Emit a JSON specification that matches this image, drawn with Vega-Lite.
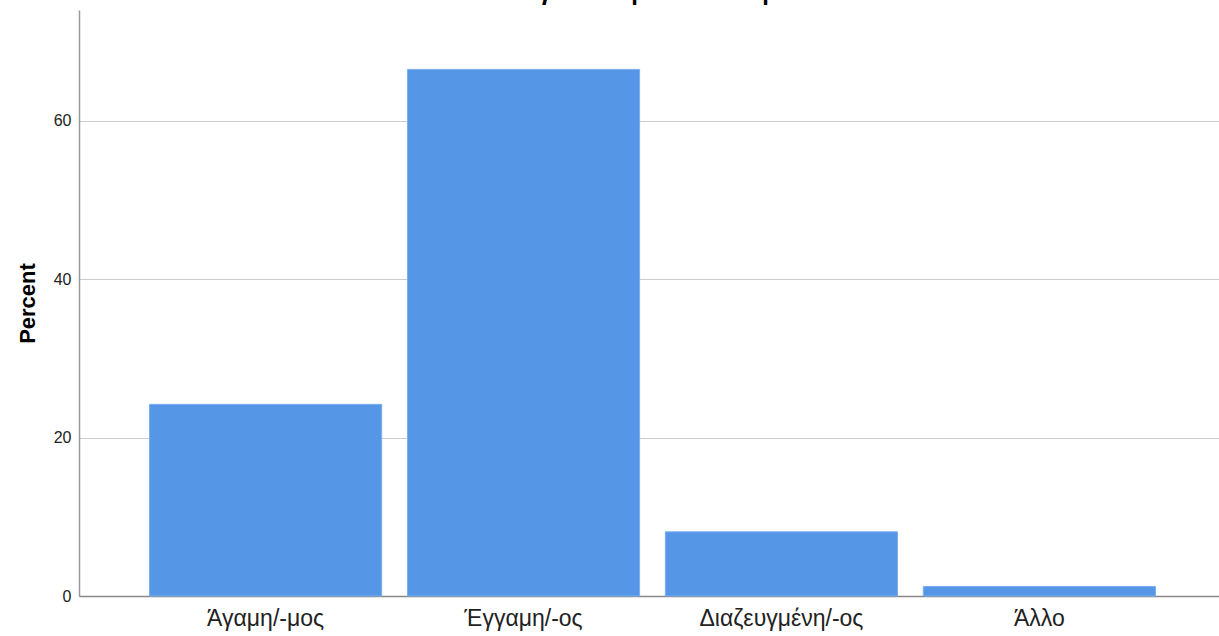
{
  "$schema": "https://vega.github.io/schema/vega-lite/v6.json",
  "autosize": {"type": "none"},
  "width": 1140,
  "height": 586,
  "padding": {"left": 79, "top": 10, "right": 0, "bottom": 40},
  "background": "white",
  "title": {"text": "4. Οικογενειακή κατάσταση", "font": "Liberation Sans", "fontSize": 24, "fontWeight": "bold", "color": "#000000", "offset": 5, "anchor": "middle", "dx": -35},
  "config": {"view": {"stroke": null}},
  "data": {"values": [
    {"category": "Άγαμη/-μος", "percent": 24.2},
    {"category": "Έγγαμη/-ος", "percent": 66.5},
    {"category": "Διαζευγμένη/-ος", "percent": 8.1},
    {"category": "Άλλο", "percent": 1.2}
  ]},
  "mark": {"type": "bar", "color": "#5596e6", "stroke": "#7aaef0", "strokeWidth": 1},
  "encoding": {
    "x": {
      "field": "category", "type": "nominal", "sort": null,
      "scale": {"paddingInner": 0.1, "paddingOuter": 0.26, "align": 0.526},
      "axis": {"title": null, "labelAngle": 0, "labelFont": "Liberation Sans", "labelFontSize": 23, "labelColor": "#222222", "ticks": false, "labelPadding": 11, "domainColor": "#888888", "domainWidth": 1.5, "grid": false}
    },
    "y": {
      "field": "percent", "type": "quantitative",
      "scale": {"domain": [0, 74], "nice": false},
      "axis": {"title": "Percent", "titleFont": "Liberation Sans", "titleFontSize": 22, "titleFontWeight": "bold", "titleColor": "#000000", "titlePadding": 14, "values": [0, 20, 40, 60], "labelFont": "Liberation Sans", "labelFontSize": 16, "labelColor": "#222222", "ticks": false, "labelPadding": 8, "domainColor": "#999999", "domainWidth": 1.5, "grid": true, "gridColor": "#cccccc", "gridWidth": 1.2}
    }
  }
}
